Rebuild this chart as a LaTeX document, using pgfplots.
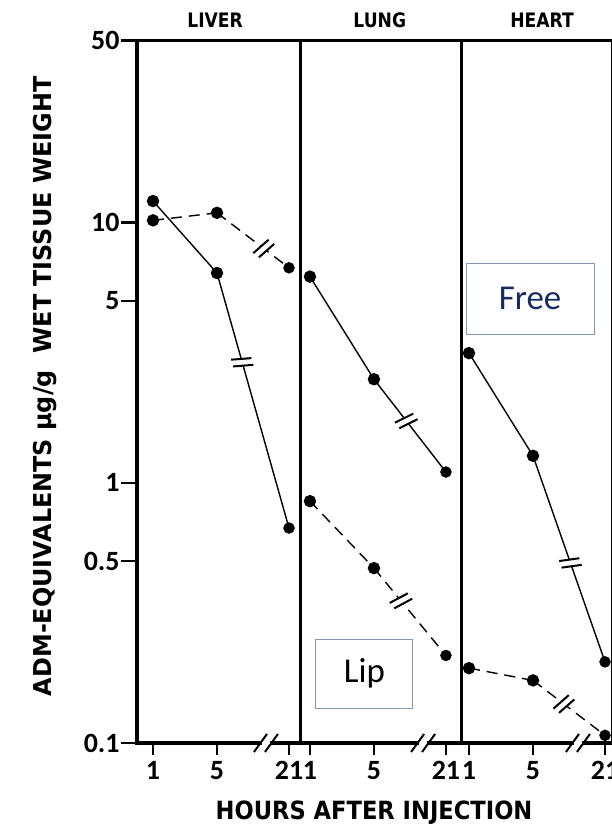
\documentclass[border=0pt]{standalone}
\usepackage{pgfplots}
\pgfplotsset{compat=1.18}
\usepackage{fontspec}
\setmainfont{Carlito}
\newfontfamily\plotfont{DejaVu Sans}[FakeStretch=0.9]
\newfontfamily\ylabfont{DejaVu Sans}[FakeStretch=0.97]
\newfontfamily\titlefont{DejaVu Sans}[FakeStretch=0.86]
\usetikzlibrary{decorations.markings}

\definecolor{freeblue}{RGB}{24,42,98}
\definecolor{boxedge}{RGB}{132,151,176}

% "//" break sign drawn across a plotted segment
\tikzset{
  brk/.style={postaction={decorate,decoration={markings,mark=at position #1 with {
    \fill[white] (-3bp,-6bp) rectangle (3bp,6bp);
    \draw[solid,line width=2bp] (-5.5bp,-10bp) -- (-1.5bp,10bp) (1.5bp,-10bp) -- (5.5bp,10bp);}}}},
  free/.style={black,line width=1.4bp,mark=*,mark size=5.5bp,mark options={solid}},
  lip/.style={black,line width=1.4bp,dash pattern=on 11bp off 7bp,mark=*,mark size=5.5bp,mark options={solid}},
  dot/.style={black,only marks,mark=*,mark size=5.5bp},
}

% x positions: hour 1 -> 1, hour 5 -> 5, hour 21 -> 9.5 (broken scale);
% lung panel shifted by 9.81, heart panel by 19.75
\begin{document}
\begin{tikzpicture}
\useasboundingbox (0,0) rectangle (612bp,828bp);
\begin{axis}[
  at={(137bp,85bp)}, anchor=south west,
  scale only axis, width=476bp, height=702.3bp,
  ymode=log, ymin=0.1, ymax=50, xmin=0, xmax=29.75,
  axis line style={line width=3.5bp},
  ytick={0.1,0.5,1,5,10,50}, yticklabels={0.1,0.5,1,5,10,50},
  xtick={1,5,9.5,10.81,14.81,19.31,20.75,24.75,29.25},
  xticklabels={1,5,21,1,5,21,1,5,21},
  minor tick num=0, log basis y=10,
  yminorticks=false,
  tick align=outside, major tick length=12bp,
  tick style={line width=2.4bp,black},
  ytick style={/pgfplots/major tick length=16bp},
  xtick pos=bottom, ytick pos=left,
  tick label style={font=\fontsize{28}{30}\selectfont\bfseries},
  xticklabel style={yshift=-3bp},
  yticklabel style={xshift=-2bp},
  xlabel={HOURS AFTER INJECTION},
  xlabel style={font=\plotfont\bfseries\fontsize{25.2}{27}\selectfont,
    at={(axis description cs:0.498,-0.099)}, anchor=center},
  ylabel={ADM-EQUIVALENTS µg/g\ \ WET TISSUE WEIGHT},
  ylabel style={font=\ylabfont\bfseries\fontsize{24.7}{26}\selectfont,
    at={(axis description cs:-0.193,0.508)}, anchor=center, rotate=0},
  clip=false,
]
% panel dividers
\draw[line width=3bp] (axis cs:10.19,0.1) -- (axis cs:10.19,50);
\draw[line width=3bp] (axis cs:20.31,0.1) -- (axis cs:20.31,50);

% LIVER
\addplot[free] coordinates {(1,12.1) (5,6.4)};
\addplot[free,no marks,brk=0.35] coordinates {(5,6.4) (9.5,0.67)};
\addplot[dot] coordinates {(9.5,0.67)};
\addplot[lip] coordinates {(1,10.2) (5,10.9)};
\addplot[lip,no marks,brk=0.65] coordinates {(5,10.9) (9.5,6.7)};
\addplot[dot] coordinates {(9.5,6.7)};
% LUNG
\addplot[free] coordinates {(10.81,6.2) (14.81,2.5)};
\addplot[free,no marks,brk=0.45] coordinates {(14.81,2.5) (19.31,1.1)};
\addplot[dot] coordinates {(19.31,1.1)};
\addplot[lip] coordinates {(10.81,0.85) (14.81,0.47)};
\addplot[lip,no marks,brk=0.375] coordinates {(14.81,0.47) (19.31,0.217)};
\addplot[dot] coordinates {(19.31,0.217)};
% HEART
\addplot[free] coordinates {(20.75,3.15) (24.75,1.27)};
\addplot[free,no marks,brk=0.52] coordinates {(24.75,1.27) (29.25,0.205)};
\addplot[dot] coordinates {(29.25,0.205)};
\addplot[lip] coordinates {(20.75,0.194) (24.75,0.174)};
\addplot[lip,no marks,brk=0.43] coordinates {(24.75,0.174) (29.25,0.107)};
\addplot[dot] coordinates {(29.25,0.107)};

% breaks on the time axis
\pgfplotsinvokeforeach{8.06,17.88,27.56}{
  \fill[white] ([xshift=-4bp,yshift=-3bp]axis cs:#1,0.1) rectangle ([xshift=4bp,yshift=3bp]axis cs:#1,0.1);
  \draw[line width=2bp] ([xshift=-12bp,yshift=-9bp]axis cs:#1,0.1) -- ([xshift=1bp,yshift=9bp]axis cs:#1,0.1);
  \draw[line width=2bp] ([xshift=-1bp,yshift=-9bp]axis cs:#1,0.1) -- ([xshift=12bp,yshift=9bp]axis cs:#1,0.1);
}

% panel titles
\node[font=\titlefont\bfseries\fontsize{20}{22}\selectfont] at (axis description cs:0.164,1.029) {LIVER};
\node[font=\titlefont\bfseries\fontsize{20}{22}\selectfont] at (axis description cs:0.51,1.029) {LUNG};
\node[font=\titlefont\bfseries\fontsize{20}{22}\selectfont] at (axis description cs:0.851,1.029) {HEART};
\end{axis}

% series labels
\node[draw=boxedge,line width=0.9bp,minimum width=128bp,minimum height=71bp,inner sep=0,
      text=freeblue,font=\fontsize{35}{40}\selectfont] at (530bp,529.5bp) {Free};
\node[draw=boxedge,line width=0.9bp,minimum width=97bp,minimum height=69bp,inner sep=0,
      text=black,font=\fontsize{35}{40}\selectfont] at (364.4bp,154.5bp) {Lip};
\end{tikzpicture}
\end{document}
